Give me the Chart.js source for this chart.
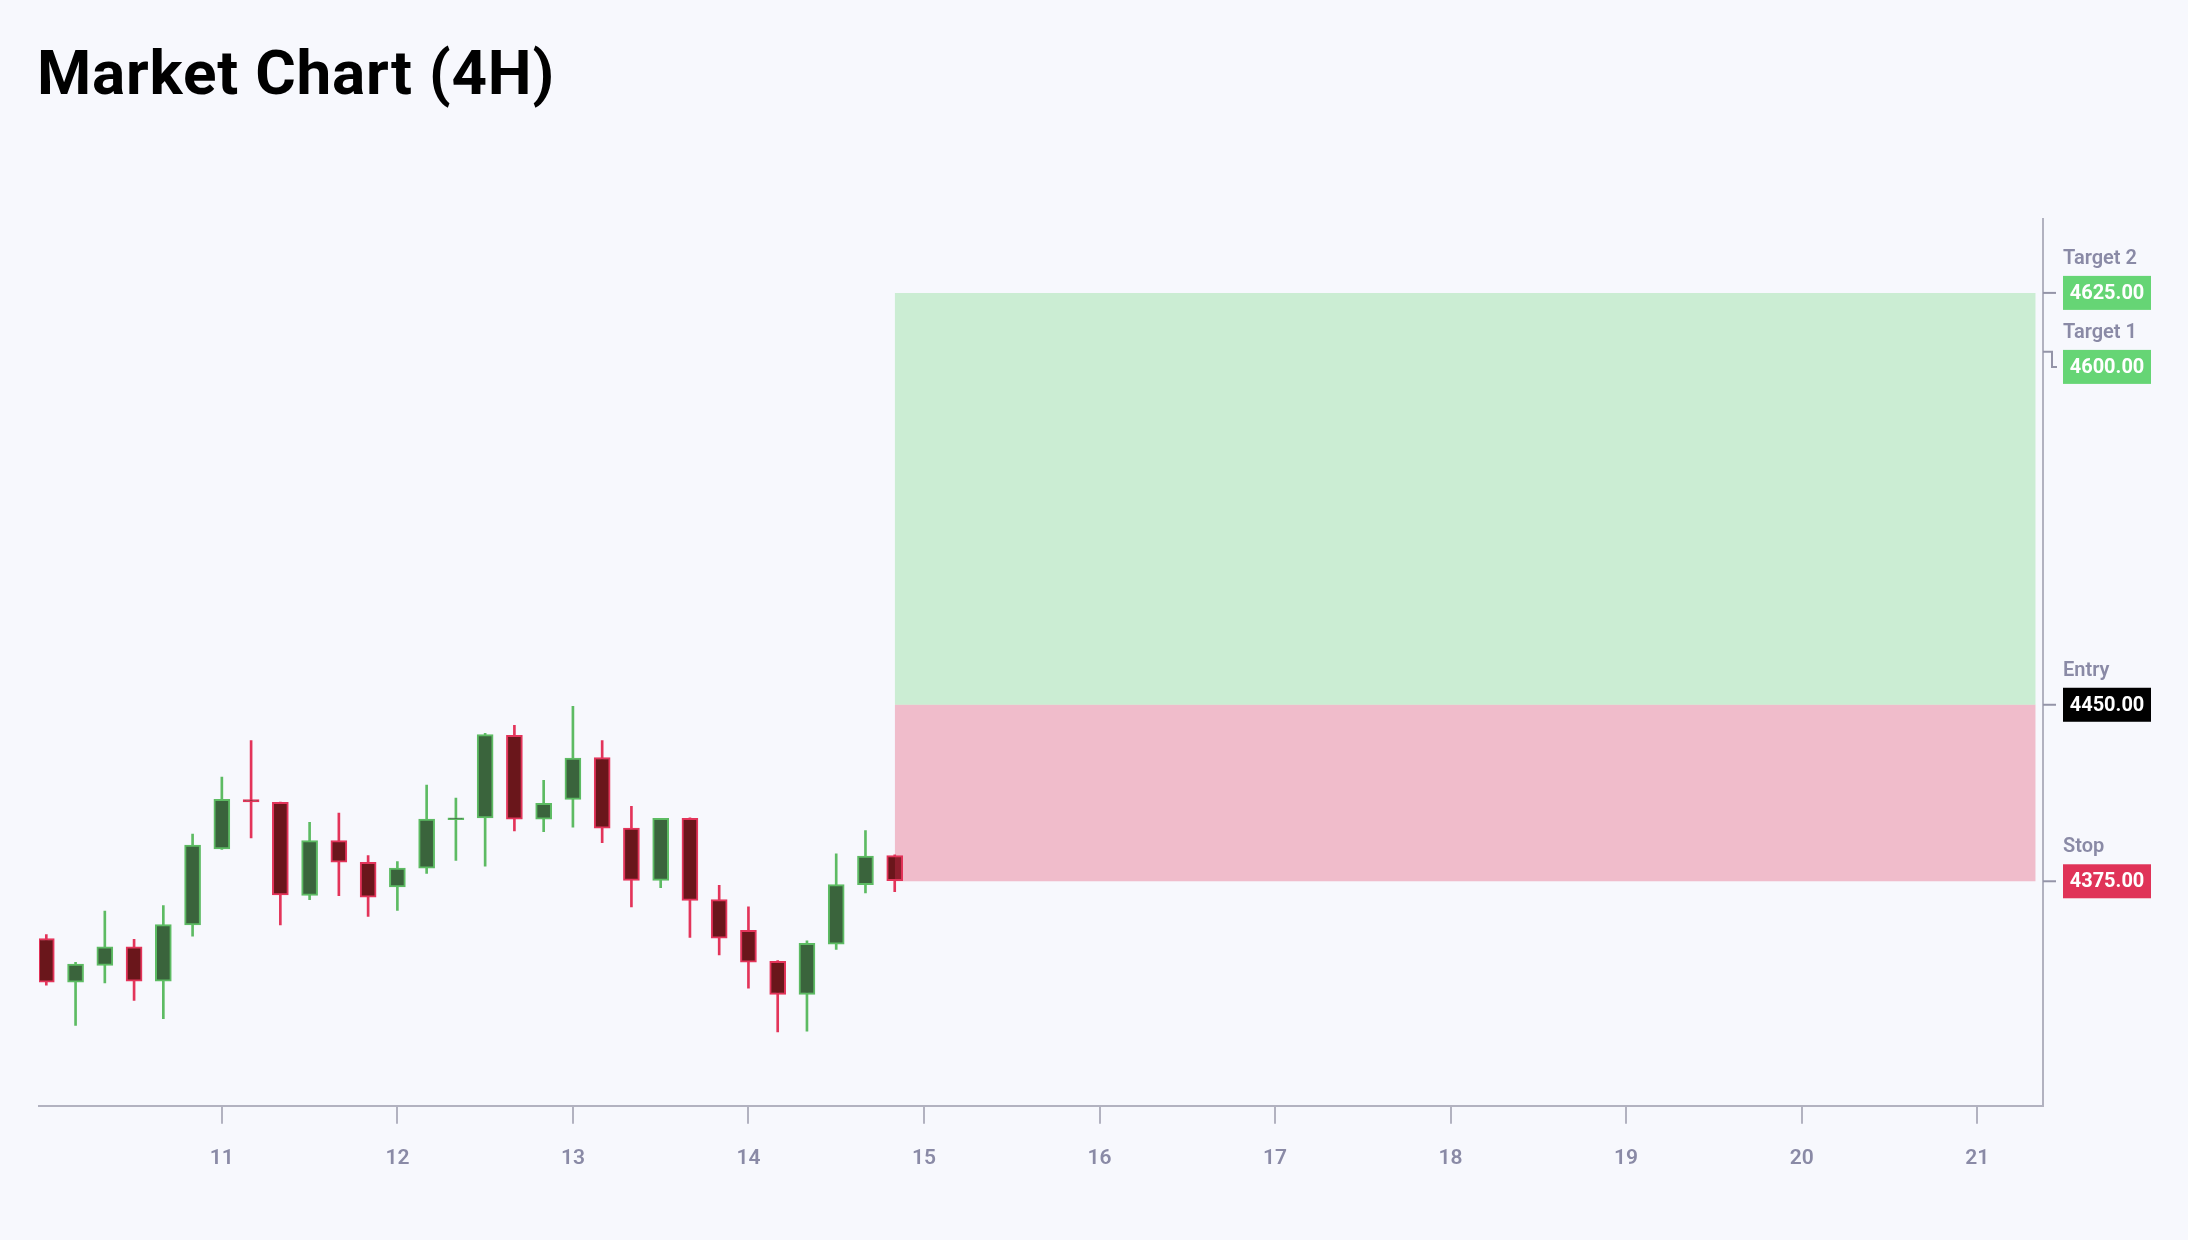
<!DOCTYPE html>
<html>
<head>
<meta charset="utf-8">
<title>Market Chart (4H)</title>
<script src="https://cdn.jsdelivr.net/npm/chart.js@4.4.0/dist/chart.umd.min.js"></script>
<style>
  html, body { margin: 0; padding: 0; background: #f7f8fd; }
  #wrap { position: relative; width: 2188px; height: 1240px; overflow: hidden; }
  h1 {
    position: absolute; left: 37px; top: 42px; margin: 0;
    font: 700 62px/62px Roboto, sans-serif; letter-spacing: 0.8px; color: #000;
  }
  canvas { position: absolute; left: 0; top: 0; }
</style>
</head>
<body>
<div id="wrap">
  <h1>Market Chart (4H)</h1>
  <canvas id="chart" width="2188" height="1240"></canvas>
</div>
<script>
// candle times as "day hh:mm" (4H bars)
const candleTimes = [
  '10 00:00', '10 04:00', '10 08:00', '10 12:00', '10 16:00', '10 20:00',
  '11 00:00', '11 04:00', '11 08:00', '11 12:00', '11 16:00', '11 20:00',
  '12 00:00', '12 04:00', '12 08:00', '12 12:00', '12 16:00', '12 20:00',
  '13 00:00', '13 04:00', '13 08:00', '13 12:00', '13 16:00', '13 20:00',
  '14 00:00', '14 04:00', '14 08:00', '14 12:00', '14 16:00', '14 20:00'
];
const opens  = [4350.7, 4332.1, 4339.3, 4347.1, 4332.6, 4356.5, 4388.7, 4409.7, 4408.5, 4369.0,
                4392.3, 4383.1, 4372.6, 4380.6, 4401.2, 4401.9, 4437.0, 4401.4, 4409.8, 4427.6,
                4397.6, 4375.4, 4401.7, 4367.2, 4354.2, 4341.0, 4326.9, 4348.3, 4373.6, 4385.9];
const highs  = [4352.4, 4340.6, 4362.3, 4350.3, 4364.7, 4395.1, 4419.3, 4434.8, 4408.7, 4400.0,
                4404.0, 4385.9, 4383.4, 4415.9, 4410.4, 4437.9, 4441.3, 4417.9, 4449.3, 4434.8,
                4406.8, 4401.7, 4402.0, 4373.3, 4364.1, 4341.3, 4349.7, 4386.7, 4396.5, 4386.2];
const lows   = [4330.9, 4313.8, 4331.8, 4324.4, 4316.6, 4351.7, 4388.5, 4393.4, 4356.5, 4367.2,
                4368.9, 4360.1, 4362.6, 4378.3, 4383.9, 4381.4, 4396.4, 4396.1, 4398.0, 4391.4,
                4364.1, 4372.3, 4351.1, 4343.7, 4329.6, 4311.0, 4311.3, 4346.0, 4370.0, 4370.6];
const closes = [4332.1, 4339.8, 4347.1, 4332.6, 4356.6, 4390.4, 4409.8, 4408.7, 4369.2, 4392.3,
                4383.1, 4368.2, 4380.6, 4401.4, 4402.0, 4437.3, 4401.4, 4408.1, 4427.3, 4397.6,
                4375.4, 4401.7, 4366.9, 4350.8, 4340.6, 4326.9, 4348.6, 4373.6, 4385.7, 4375.3];

// trade levels
const levelNames  = ['Target 2', 'Target 1', 'Entry', 'Stop'];
const levelKinds  = ['target', 'target', 'entry', 'stop'];
const levelPrices = [4625, 4600, 4450, 4375];
const entryPrice = 4450;
const stopPrice = 4375;
const targetPrice = 4625;
const zoneFrom = '14 20:00';
const zoneTo = '21 08:00';

// x axis
const xStart = '09 23:00';
const xEnd = '21 09:00';
const tickDays = [11, 12, 13, 14, 15, 16, 17, 18, 19, 20, 21];

const UP_LINE = '#5dbb63', UP_FILL = '#3a643c';
const DOWN_LINE = '#e3345a', DOWN_FILL = '#6a161b';
const LABEL_GREY = '#8a8aa6';
const AXIS_GREY = '#b2b2c0';
const levelColor = { target: '#66d575', entry: '#000000', stop: '#e03358' };

function toDay(s) {
  const [d, hm] = s.split(' ');
  const [h, m] = hm.split(':').map(Number);
  return Number(d) + (h + m / 60) / 24;
}

const xs = candleTimes.map(toDay);
const isUp = i => closes[i] >= opens[i];

// y range: data plus levels, padded 10%
const lo = Math.min(...lows, ...levelPrices);
const hi = Math.max(...highs, ...levelPrices);
const pad = (hi - lo) * 0.1;

const levelPlugin = {
  id: 'levels',
  afterDraw(chart) {
    const { ctx, chartArea, scales: { y } } = chart;
    const ax = chartArea.right;
    let prev = -Infinity;
    ctx.save();
    levelPrices.forEach((price, i) => {
      const ty = y.getPixelForValue(price);
      const by = Math.max(ty, prev + 74);
      prev = by;
      ctx.strokeStyle = '#9494a8';
      ctx.lineWidth = 2;
      ctx.beginPath();
      ctx.moveTo(ax, ty);
      if (by - ty > 0.5) {
        ctx.lineTo(ax + 9, ty);
        ctx.lineTo(ax + 9, by);
        ctx.lineTo(ax + 14, by);
      } else {
        ctx.lineTo(ax + 13, ty);
      }
      ctx.stroke();

      const bx = ax + 20, bw = 88, bh = 34;
      ctx.fillStyle = levelColor[levelKinds[i]];
      ctx.fillRect(bx, by - bh / 2, bw, bh);
      ctx.fillStyle = '#ffffff';
      ctx.font = '700 20px Roboto';
      ctx.textAlign = 'center';
      ctx.textBaseline = 'middle';
      ctx.fillText(price.toFixed(2), bx + bw / 2, by + 1);

      ctx.fillStyle = LABEL_GREY;
      ctx.font = '600 20px Roboto';
      ctx.textAlign = 'left';
      ctx.textBaseline = 'alphabetic';
      ctx.fillText(levelNames[i], bx, by - bh / 2 - 12);
    });
    ctx.restore();
  }
};

function makeChart() {
  const ctx = document.getElementById('chart').getContext('2d');
  new Chart(ctx, {
    type: 'bar',
    data: {
      datasets: [
        {
          // reward zone
          type: 'line',
          data: [{ x: toDay(zoneFrom), y: targetPrice }, { x: toDay(zoneTo), y: targetPrice }],
          fill: { value: entryPrice },
          backgroundColor: 'rgba(102, 213, 117, 0.3)',
          borderWidth: 0,
          pointRadius: 0,
          order: 0
        },
        {
          // risk zone
          type: 'line',
          data: [{ x: toDay(zoneFrom), y: stopPrice }, { x: toDay(zoneTo), y: stopPrice }],
          fill: { value: entryPrice },
          backgroundColor: 'rgba(224, 51, 88, 0.3)',
          borderWidth: 0,
          pointRadius: 0,
          order: 0
        },
        {
          // bodies
          data: xs.map((x, i) => ({ x, y: [opens[i], closes[i]] })),
          backgroundColor: c => isUp(c.dataIndex) ? UP_FILL : DOWN_FILL,
          borderColor: c => isUp(c.dataIndex) ? UP_LINE : DOWN_LINE,
          borderWidth: 2,
          borderSkipped: false,
          barThickness: 16,
          grouped: false,
          order: 1
        },
        {
          // wicks
          data: xs.map((x, i) => ({ x, y: [lows[i], highs[i]] })),
          backgroundColor: c => isUp(c.dataIndex) ? UP_LINE : DOWN_LINE,
          borderWidth: 0,
          barThickness: 2,
          grouped: false,
          order: 2
        }
      ]
    },
    options: {
      responsive: false,
      animation: false,
      devicePixelRatio: 1,
      layout: { padding: { left: 39, right: 145, top: 219, bottom: 47 } },
      plugins: { legend: { display: false }, tooltip: { enabled: false } },
      scales: {
        x: {
          type: 'linear',
          offset: false,
          min: toDay(xStart),
          max: toDay(xEnd),
          afterBuildTicks: s => { s.ticks = tickDays.map(v => ({ value: v })); },
          ticks: {
            autoSkip: false,
            maxRotation: 0,
            padding: 22,
            color: LABEL_GREY,
            font: { family: 'Roboto', size: 21, weight: '600' },
            callback: v => String(v)
          },
          grid: {
            offset: false,
            drawOnChartArea: false,
            drawTicks: true,
            tickLength: 18,
            color: AXIS_GREY,
            lineWidth: 2
          },
          border: { display: true, color: AXIS_GREY, width: 2 }
        },
        y: {
          type: 'linear',
          position: 'right',
          min: lo - pad,
          max: hi + pad,
          ticks: { display: false },
          grid: { display: false, drawTicks: false },
          border: { display: true, color: AXIS_GREY, width: 2 }
        }
      }
    },
    plugins: [levelPlugin]
  });
}

document.fonts.load('700 20px Roboto').then(makeChart, makeChart);
</script>
</body>
</html>
